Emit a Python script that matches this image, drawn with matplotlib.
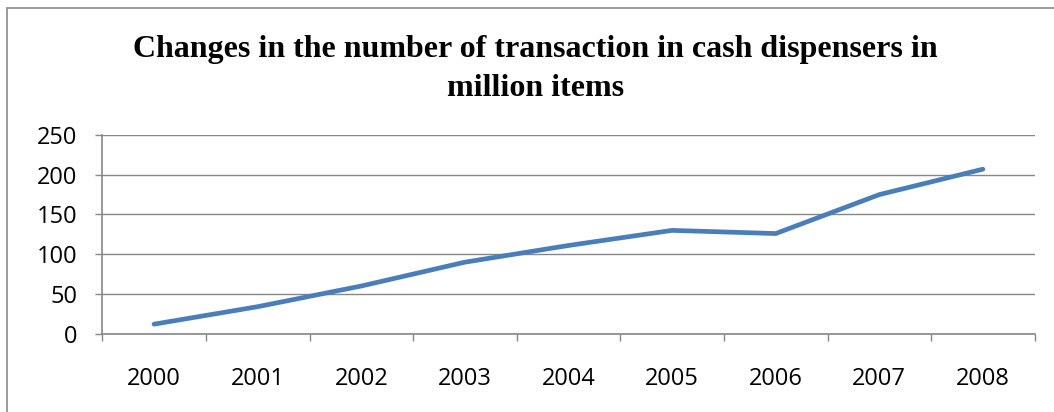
import matplotlib
matplotlib.use("Agg")
import matplotlib.pyplot as plt
from matplotlib.patches import Rectangle

years = ["2000", "2001", "2002", "2003", "2004", "2005", "2006", "2007", "2008"]
transactions = [12, 34, 60, 90, 111, 130, 126, 175, 207]
y_ticks = [0, 50, 100, 150, 200, 250]
title = "Changes in the number of transaction in cash dispensers in\nmillion items"

W, H = 1054, 412
fig = plt.figure(figsize=(W / 100, H / 100), dpi=100)
fig.patch.set_facecolor("white")

# outer chart frame (partly cut off at the right and bottom)
fig.patches.append(Rectangle((7 / W, -0.2), 1.2, 1.2 - 8.5 / H,
                             transform=fig.transFigure, fill=False,
                             edgecolor="#8a8a8a", linewidth=1.2, clip_on=False))

ax = fig.add_axes([102.3 / W, 1 - 333.7 / H, (1034.7 - 102.3) / W, (333.7 - 135) / H])
x = list(range(len(years)))
ax.plot(x, transactions, color="#4A7EBB", linewidth=3.4,
        solid_capstyle="round", solid_joinstyle="round", zorder=3)

ax.set_xlim(-0.5, len(years) - 0.5)
ax.set_ylim(0, 250)
ax.set_yticks(y_ticks)
ax.set_yticklabels([str(v) for v in y_ticks])
ax.grid(axis="y", color="#878787", linewidth=1.0)
ax.set_axisbelow(True)

ax.set_xticks([i - 0.5 for i in range(len(years) + 1)])
ax.set_xticklabels([])
ax.set_xticks(x, minor=True)
ax.set_xticklabels(years, minor=True)
ax.tick_params(axis="x", which="major", length=5, width=1.0, color="#878787", direction="out")
ax.tick_params(axis="x", which="minor", length=0, pad=24)
ax.tick_params(axis="y", length=5, width=1.0, color="#878787", direction="out", pad=13)

for lab in ax.get_xticklabels(minor=True) + ax.get_yticklabels():
    lab.set_fontfamily(["Open Sans", "DejaVu Sans"])
    lab.set_fontsize(17)
    lab.set_color("black")

for s in ["top", "right"]:
    ax.spines[s].set_visible(False)
for s in ["left", "bottom"]:
    ax.spines[s].set_color("#878787")
    ax.spines[s].set_linewidth(1.2)

fig.text(0.508, 1 - 69 / H, title, ha="center", va="center",
         fontfamily=["Liberation Serif", "DejaVu Serif"], fontweight="bold",
         fontsize=23, linespacing=1.45, color="black")

fig.savefig("out.png", dpi=100, facecolor="white")
